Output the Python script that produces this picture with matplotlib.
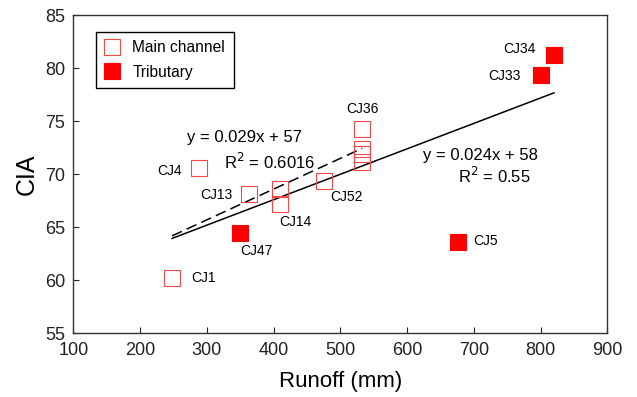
import matplotlib.pyplot as plt
import numpy as np

plt.rcParams['font.family'] = ['Liberation Sans', 'DejaVu Sans']

# Main channel samples (CJ14 and CJ36 were sampled more than once)
main_names = ['CJ1', 'CJ4', 'CJ13', 'CJ14', 'CJ14', 'CJ52', 'CJ36', 'CJ36', 'CJ36', 'CJ36']
main_runoff = [248, 289, 363, 410, 410, 475, 533, 533, 533, 533]
main_cia = [60.2, 70.6, 68.1, 68.6, 67.2, 69.4, 74.3, 72.4, 71.9, 71.2]

# Tributary samples
trib_names = ['CJ47', 'CJ5', 'CJ33', 'CJ34']
trib_runoff = [350, 677, 800, 820]
trib_cia = [64.5, 63.6, 79.4, 81.3]

# Regression equations (slope, intercept, R^2)
fit_main = (0.029, 57, '0.6016')
fit_all = (0.024, 58, '0.55')

fig = plt.figure(figsize=(6.37, 3.97), dpi=100)
ax = fig.add_axes([0.1151, 0.1605, 0.8383, 0.801])

ax.plot(main_runoff, main_cia, 's', ms=11.5, mfc='none', mec='#f04848', mew=0.8,
        label='Main channel', zorder=3)
ax.plot(trib_runoff, trib_cia, 's', ms=11.5, mfc='#ff0000', mec='#ff0000', mew=0.8,
        label='Tributary', zorder=3)

# fit lines over the range of each group
xm = np.array([min(main_runoff), max(main_runoff)])
ax.plot(xm, fit_main[0] * xm + fit_main[1], color='black', lw=1.1, dashes=(7, 3.5), zorder=2)
all_x = main_runoff + trib_runoff
xa = np.array([min(all_x), max(all_x)])
ax.plot(xa, fit_all[0] * xa + fit_all[1], color='black', lw=1.1, zorder=2)

# sample labels: index into the combined lists -> pixel offset and alignment
label_at = {
    0: (19, 0, 'left'), 1: (-18, -3, 'right'), 2: (-16, -1, 'right'),
    4: (15, -18, 'center'), 5: (23, -16, 'center'), 6: (0, 20, 'center'),
    10: (16, -18, 'center'), 11: (15, 1, 'left'), 12: (-20, -1, 'right'),
    13: (-18, 6, 'right'),
}
names = main_names + trib_names
xs = main_runoff + trib_runoff
ys = main_cia + trib_cia
for i, (dx, dy, ha) in label_at.items():
    ax.annotate(names[i], (xs[i], ys[i]), xytext=(dx, dy), textcoords='offset pixels',
                ha=ha, va='center', fontsize=10)

ax.text(356.5, 73.5, f'y = {fit_main[0]}x + {fit_main[1]}', ha='center', va='center', fontsize=12)
ax.text(393.9, 71.2, f'R$^2$ = {fit_main[2]}', ha='center', va='center', fontsize=12)
ax.text(709.3, 71.8, f'y = {fit_all[0]}x + {fit_all[1]}', ha='center', va='center', fontsize=12)
ax.text(731, 69.8, f'R$^2$ = {fit_all[2]}', ha='center', va='center', fontsize=12)

ax.set_xlim(100, 900)
ax.set_ylim(55, 85)
ax.set_xticks(range(100, 901, 100))
ax.set_yticks(range(55, 86, 5))
ax.tick_params(direction='in', length=4, width=0.8, labelsize=13, pad=6, colors='#222222')
for s in ax.spines.values():
    s.set_color('#333333')
    s.set_linewidth(1.0)

ax.set_xlabel('Runoff (mm)', fontsize=16, labelpad=9)
ax.set_ylabel('CIA', fontsize=18, labelpad=4)

ax.legend(loc='upper left', bbox_to_anchor=(0.042, 0.948), borderaxespad=0, fontsize=11.2,
          frameon=True, fancybox=False, edgecolor='black', framealpha=1, handlelength=1.0,
          handletextpad=0.8, borderpad=0.55, labelspacing=0.6, numpoints=1)
ax.get_legend().get_frame().set_linewidth(1.0)

fig.savefig('out.png', dpi=100)
